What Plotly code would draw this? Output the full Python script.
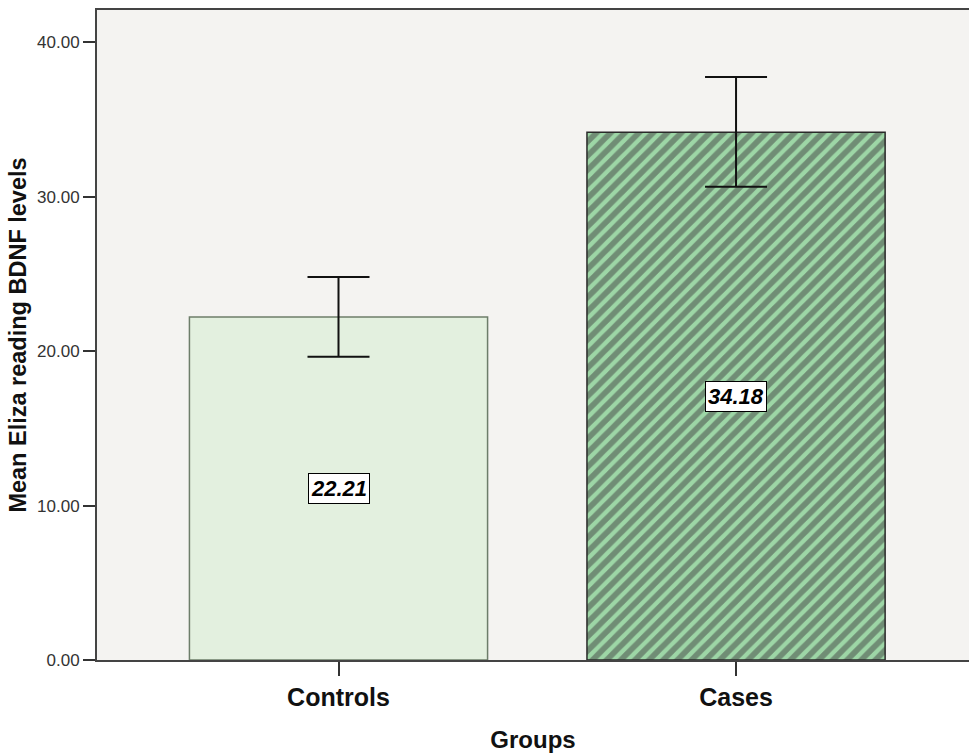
import plotly.graph_objects as go

groups = ["Controls", "Cases"]
means = [22.21, 34.18]
ci_upper = [24.81, 37.76]
ci_lower = [19.64, 30.66]
y_ticks = [0, 10, 20, 30, 40]

err_plus = [u - m for u, m in zip(ci_upper, means)]
err_minus = [m - l for m, l in zip(means, ci_lower)]

fig = go.Figure()
fig.add_trace(go.Bar(
    x=groups, y=means, width=0.75,
    marker=dict(
        color=["#e3f0df", "#9dd6a6"],
        line=dict(color=["#6d7d6a", "#2a2a2a"], width=1.5),
        pattern=dict(shape=["", "/"], fgcolor="#000000", bgcolor="#9dd6a6",
                     size=10, solidity=0.58, fillmode="overlay"),
    ),
    error_y=dict(type="data", symmetric=False, array=err_plus, arrayminus=err_minus,
                 color="#111111", thickness=2, width=31),
    showlegend=False,
))

for g, m in zip(groups, means):
    fig.add_annotation(
        x=g, y=m / 2, text=f"<b><i>{m:.2f}</i></b>", showarrow=False,
        font=dict(family="Arial, Liberation Sans", size=22, color="#000000"),
        bgcolor="#ffffff", bordercolor="#000000", borderwidth=1, borderpad=2,
    )

fig.update_layout(
    width=969, height=755,
    margin=dict(l=97, r=0, t=10, b=95),
    paper_bgcolor="#ffffff", plot_bgcolor="#f4f3f1",
    font=dict(family="Arial, Liberation Sans", color="#222222"),
    xaxis=dict(
        range=[-0.6075, 1.586], showline=True, linecolor="#444444", linewidth=2,
        mirror=True, ticks="outside", ticklen=14, tickcolor="#333333", tickwidth=2,
        tickvals=groups, ticktext=[f"<b>{g}</b>" for g in groups],
        tickfont=dict(size=25, color="#111111", family="Arial, Liberation Sans"),
        title=dict(text="<b>Groups</b>", font=dict(size=24, color="#111111"), standoff=21),
        showgrid=False,
    ),
    yaxis=dict(
        range=[0, 42.1], showline=True, linecolor="#444444", linewidth=2,
        tickvals=y_ticks, ticktext=[f"{v:.2f}" for v in y_ticks],
        ticks="outside", ticklen=12, tickcolor="#333333", tickwidth=2,
        tickfont=dict(size=17, color="#333333"),
        title=dict(text="<b>Mean Eliza reading BDNF levels</b>", font=dict(size=23.5, color="#111111"), standoff=4),
        showgrid=False, zeroline=False,
    ),
)

fig.write_html("out.html", config={"displayModeBar": False},
               post_script="document.body.style.margin='0';")
